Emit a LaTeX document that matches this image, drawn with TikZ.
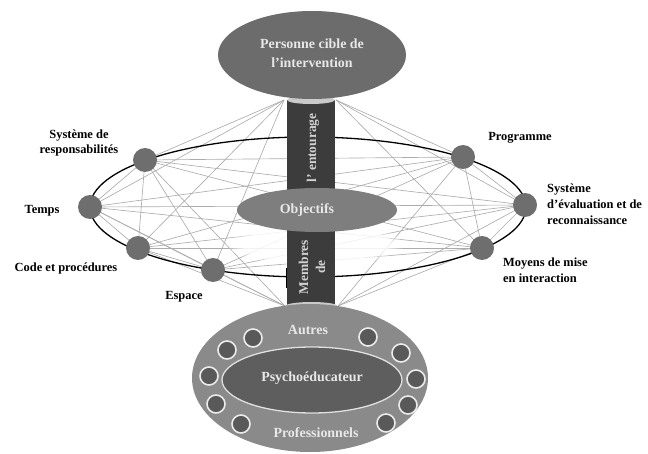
\documentclass[tikz,border=0pt]{standalone}
\usepackage{fontspec}
\setmainfont{Liberation Serif}
\usetikzlibrary{shapes.geometric,fadings}
\definecolor{ringnode}{HTML}{6E6E6E}
\definecolor{linkgray}{HTML}{ACACAC}
\definecolor{column}{HTML}{3C3C3C}
\definecolor{capgray}{HTML}{CACACA}
\definecolor{topfill}{HTML}{6C6C6C}
\definecolor{objfill}{HTML}{7E7E7E}
\definecolor{outerfill}{HTML}{8A8A8A}
\definecolor{innerfill}{HTML}{5E5E5E}
\definecolor{dotfill}{HTML}{595959}
\definecolor{lighttext}{HTML}{E8E8E8}
\tikzset{
  ringdot/.style={circle,fill=ringnode,minimum size=24bp,inner sep=0pt},
  link/.style={draw=linkgray,line width=0.65bp},
  lbl/.style={font=\bfseries\fontsize{12.5}{16}\selectfont,text=black,inner sep=0pt,align=center},
  lblleft/.style={lbl,align=left,anchor=west},
  bigtext/.style={font=\bfseries\fontsize{14}{19}\selectfont,text=lighttext,inner sep=0pt,align=center},
  coltext/.style={font=\bfseries\fontsize{13.5}{17}\selectfont,text=lighttext!90!black,inner sep=0pt,align=center,rotate=90},
  member/.style={circle,fill=dotfill,draw=white!92!black,line width=1.6bp,minimum size=18bp,inner sep=0pt},
}
\begin{document}
\begin{tikzpicture}[x=1bp,y=-1bp]
\useasboundingbox (0,0) rectangle (648,454);

% hubs where the links meet the column
\coordinate (tl) at (284,100);
\coordinate (tr) at (336,100);
\coordinate (bl) at (285,306);
\coordinate (br) at (338,306);

% the seven elements on the ring
\coordinate (resp) at (145,160);
\coordinate (temps) at (90,207);
\coordinate (code) at (138,248);
\coordinate (espace) at (213,270);
\coordinate (prog) at (463,157);
\coordinate (eval) at (525,205);
\coordinate (moyens) at (482,248);

% links between the elements and the column
\foreach \n in {resp,temps,code,espace}{
  \draw[link] (\n) -- (tl);
  \draw[link] (\n) -- (bl);
}
\foreach \n in {prog,eval,moyens}{
  \draw[link] (\n) -- (tr);
  \draw[link] (\n) -- (br);
}
% links between every pair of elements
\foreach \a/\b in {resp/temps,resp/code,resp/espace,resp/prog,resp/eval,resp/moyens,
                   temps/code,temps/espace,temps/prog,temps/eval,temps/moyens,
                   code/espace,code/prog,code/eval,code/moyens,
                   espace/prog,espace/eval,espace/moyens,
                   prog/eval,prog/moyens,eval/moyens}{
  \draw[link] (\a) -- (\b);
}

% ring
\draw[line width=1.3bp,black] (308,207) ellipse [x radius=218bp, y radius=70bp];

% element dots
\foreach \n in {resp,temps,code,espace,prog,eval,moyens}{
  \node[ringdot] (\n-dot) at (\n) {};
}

% element labels
\node[lbl] (l-resp) at (79,143) {Système de\\responsabilités};
\node[lbl] (l-temps) at (42,211) {Temps};
\node[lbl] (l-code) at (66,268) {Code et procédures};
\node[lbl] (l-espace) at (184,297) {Espace};
\node[lbl] (l-prog) at (520,138) {Programme};
\node[lblleft] (l-eval) at (547,204) {Système\\d'évaluation et de\\reconnaissance};
\node[lblleft] (l-moyens) at (503,270) {Moyens de mise\\en interaction};

% soft haze under the objectives
\fill[white,path fading=circle with fuzzy edge 20 percent,opacity=0.85] (315,244) ellipse [x radius=90bp, y radius=22bp];

% central column
\fill[column] (287,100) rectangle (335,306);
\fill[capgray] (311,100) ellipse [x radius=24bp, y radius=4bp];
\fill[capgray] (311.5,306) ellipse [x radius=26bp, y radius=4bp];
\draw[black,line width=1.3bp] (286.5,268) -- (286.5,288);

% target person
\node[ellipse,fill=topfill,minimum width=188bp,minimum height=88bp,inner sep=0pt] (cible) at (312,55) {};
\node[bigtext] (t-cible) at (312,53) {Personne cible de\\l'intervention};

% objectives
\node[ellipse,fill=objfill,minimum width=160bp,minimum height=44bp,inner sep=0pt] (obj) at (317,210) {};
\node[bigtext] (t-obj) at (307,210) {Objectifs};

% column captions
\node[coltext] (t-ent) at (313,148) {l' entourage};
\node[coltext] (t-mem) at (312,267) {Membres\\de};

% professionals
\node[ellipse,fill=outerfill,minimum width=236bp,minimum height=148bp,inner sep=0pt] (autres) at (310,378) {};
\node[ellipse,fill=innerfill,draw=white!88!black,line width=1.3bp,minimum width=180bp,minimum height=66bp,inner sep=0pt] (psy) at (312,380) {};
\node[bigtext] (t-psy) at (312,378) {Psychoéducateur};
\node[bigtext] (t-autres) at (308,330) {Autres};
\node[bigtext] (t-prof) at (316,433) {Professionnels};
\foreach \x/\y [count=\i] in {253/338,227/350,209/376,216/404,241/424,368/337,401/353,416/379,408/405,386/423}{
  \node[member] (m\i) at (\x,\y) {};
}
\end{tikzpicture}
\end{document}
